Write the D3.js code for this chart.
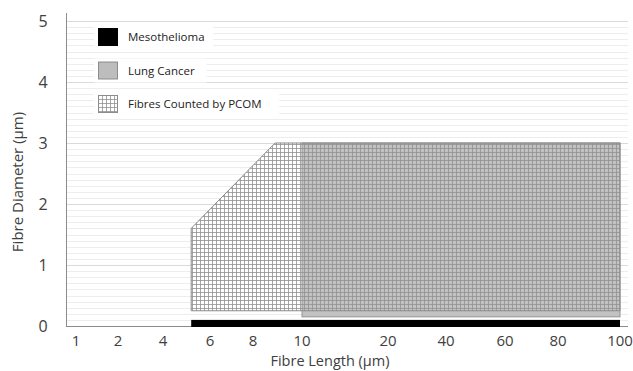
<!DOCTYPE html>
<html>
<head>
<meta charset="utf-8">
<script src="https://cdn.jsdelivr.net/npm/d3@7"></script>
<style>
  body { margin: 0; background: #fff; }
  svg { display: block; font-family: "Open Sans", sans-serif; }
</style>
</head>
<body>
<div id="chart"></div>
<script>
{
  const { d3 } = window;

  // x tick labels (the axis is stretched by hand, not a true log axis)
  const xTicks = [1, 2, 4, 6, 8, 10, 20, 40, 60, 80, 100];
  const yTicks = [0, 1, 2, 3, 4, 5];

  // regions, in fibre length (um) / fibre diameter (um)
  const mesoX = [5.2, 100];
  const mesoY = [0, 0.1];
  const lungX = [10, 100];
  const lungY = [0.15, 3];
  const pcomPoints = [[5.2, 0.25], [5.2, 1.6], [8.9, 3], [100, 3], [100, 0.25]];

  const legendLabels = ['Mesothelioma', 'Lung Cancer', 'Fibres Counted by PCOM'];

  const width = 633;
  const height = 371;

  const svg = d3.select('#chart').append('svg')
    .attr('width', width)
    .attr('height', height);

  const x = d3.scaleLinear()
    .domain(xTicks)
    .range([76, 118, 163, 210, 253, 302, 388, 446, 505, 558, 620]);

  const y = d3.scaleLinear()
    .domain([0, 5])
    .range([326, 21]);

  const plotLeft = 66;
  const plotRight = 628;

  const defs = svg.append('defs');
  const pat = defs.append('pattern')
    .attr('id', 'grid')
    .attr('patternUnits', 'userSpaceOnUse')
    .attr('width', 4)
    .attr('height', 4);
  pat.append('path')
    .attr('d', 'M0,0.5H4M0.5,0V4')
    .attr('stroke', '#909090')
    .attr('stroke-width', 0.8)
    .attr('fill', 'none');

  // gridlines, fine ones first
  const minor = d3.range(0, 50).map((d) => d / 10).filter((d) => d % 1 !== 0);
  svg.append('g')
    .selectAll('line')
    .data(minor)
    .join('line')
    .attr('x1', plotLeft)
    .attr('x2', plotRight)
    .attr('y1', (d) => Math.round(y(d)) + 0.5)
    .attr('y2', (d) => Math.round(y(d)) + 0.5)
    .attr('stroke', '#ededed');

  svg.append('g')
    .selectAll('line')
    .data(yTicks.slice(1))
    .join('line')
    .attr('x1', plotLeft)
    .attr('x2', plotRight)
    .attr('y1', (d) => Math.round(y(d)) + 0.5)
    .attr('y2', (d) => Math.round(y(d)) + 0.5)
    .attr('stroke', '#dadada');

  // axes lines
  svg.append('line')
    .attr('x1', plotLeft + 0.5).attr('x2', plotLeft + 0.5)
    .attr('y1', 13).attr('y2', y(0) + 1)
    .attr('stroke', '#8c8c8c');
  svg.append('line')
    .attr('x1', plotLeft).attr('x2', plotRight)
    .attr('y1', y(0) + 0.5).attr('y2', y(0) + 0.5)
    .attr('stroke', '#8c8c8c');

  const line = d3.line().x((d) => x(d[0])).y((d) => y(d[1]));

  // PCOM region, white underneath
  svg.append('path')
    .attr('d', line(pcomPoints) + 'Z')
    .attr('fill', '#fff');

  // lung cancer
  svg.append('rect')
    .attr('x', x(lungX[0]))
    .attr('y', y(lungY[1]))
    .attr('width', x(lungX[1]) - x(lungX[0]))
    .attr('height', y(lungY[0]) - y(lungY[1]))
    .attr('fill', '#c2c2c2')
    .attr('stroke', '#939393')
    .attr('stroke-width', 1);

  // PCOM crosshatch over both
  svg.append('path')
    .attr('d', line(pcomPoints) + 'Z')
    .attr('fill', 'url(#grid)')
    .attr('stroke', '#8a8a8a')
    .attr('stroke-width', 1);

  // mesothelioma
  svg.append('rect')
    .attr('x', x(mesoX[0]))
    .attr('y', y(mesoY[1]))
    .attr('width', x(mesoX[1]) - x(mesoX[0]))
    .attr('height', y(mesoY[0]) - y(mesoY[1]) + 1)
    .attr('fill', '#000');

  // tick labels
  svg.append('g')
    .selectAll('text')
    .data(xTicks)
    .join('text')
    .attr('x', (d) => x(d))
    .attr('y', 346)
    .attr('text-anchor', 'middle')
    .attr('font-size', 15)
    .attr('fill', '#404040')
    .text((d) => d);

  svg.append('g')
    .selectAll('text')
    .data(yTicks)
    .join('text')
    .attr('x', 43)
    .attr('y', (d) => y(d) + 6)
    .attr('text-anchor', 'middle')
    .attr('font-size', 16)
    .attr('fill', '#404040')
    .text((d) => d);

  svg.append('text')
    .attr('x', 330)
    .attr('y', 366)
    .attr('text-anchor', 'middle')
    .attr('font-size', 14.5)
    .attr('fill', '#404040')
    .text('Fibre Length (μm)');

  svg.append('text')
    .attr('transform', 'translate(23,182) rotate(-90)')
    .attr('text-anchor', 'middle')
    .attr('font-size', 15)
    .attr('fill', '#404040')
    .text('Fibre Diameter (μm)');

  // legend
  const fills = ['#000', '#bdbdbd', 'url(#grid)'];
  const legend = svg.append('g')
    .selectAll('g')
    .data(legendLabels)
    .join('g')
    .attr('transform', (d, i) => `translate(98,${28 + i * 33.5})`);

  legend.append('rect')
    .attr('x', -4).attr('y', -3)
    .attr('width', (d) => d.length * 6.6 + 40)
    .attr('height', 24)
    .attr('fill', '#fff');
  legend.append('rect')
    .attr('width', 19)
    .attr('height', 17)
    .attr('fill', '#fff');
  legend.append('rect')
    .attr('x', 0.5).attr('y', 0.5)
    .attr('width', 19)
    .attr('height', 17)
    .attr('fill', (d, i) => fills[i])
    .attr('stroke', (d, i) => (i === 0 ? '#000' : '#8c8c8c'));
  legend.append('text')
    .attr('x', 30)
    .attr('y', 13)
    .attr('font-size', 11.5)
    .attr('fill', '#222')
    .text((d) => d);
}
</script>
</body>
</html>
